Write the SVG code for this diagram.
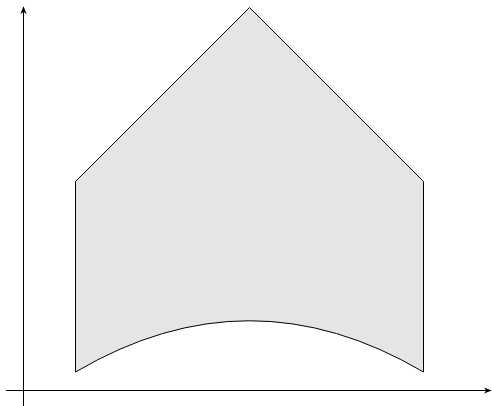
<svg xmlns="http://www.w3.org/2000/svg" width="492" height="406" viewBox="0 0 492 406">
<style>
.ax{stroke:#000;stroke-width:1;fill:none}
.shape{fill:#e5e5e5;stroke:#000;stroke-width:1}
</style>
<defs>
<marker id="arr" viewBox="0 0 10 10" refX="9" refY="5" markerWidth="8" markerHeight="8" markerUnits="userSpaceOnUse" orient="auto">
<path d="M0,1 L10,5 L0,9 L3,5 Z" fill="#000"/>
</marker>
</defs>
<g id="axes">
<line class="ax" x1="23.5" y1="406" x2="23.5" y2="7" marker-end="url(#arr)"/>
<line class="ax" x1="6" y1="390.5" x2="491" y2="390.5" marker-end="url(#arr)"/>
</g>
<g id="region">
<path class="shape" d="M75.5,372 L75.5,181.5 L249.5,7.5 L423.5,181.5 L423.5,372 Q249.5,269.5 75.5,372 Z"/>
</g>
</svg>
